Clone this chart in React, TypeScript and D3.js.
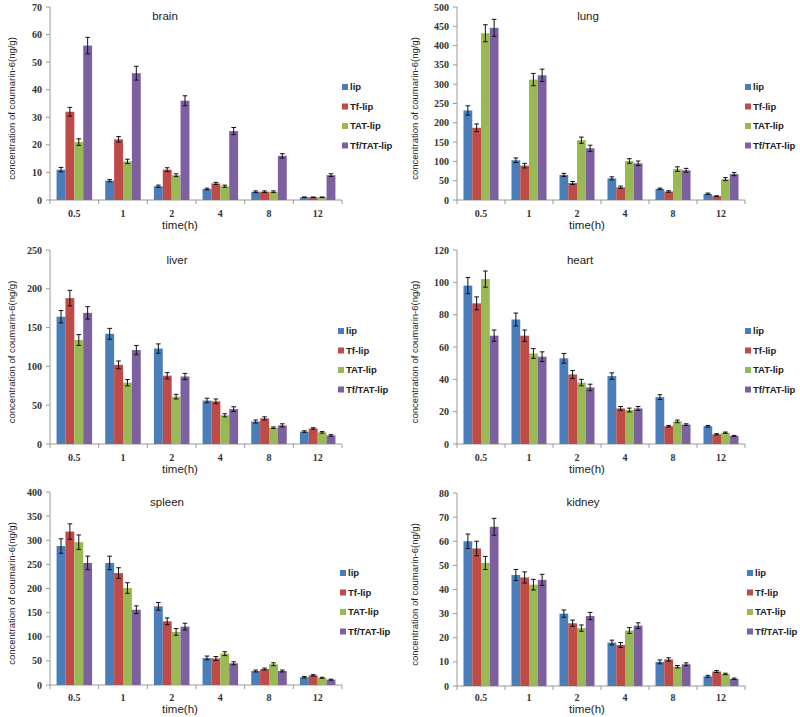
import React from "react";
import * as d3 from "d3";

const times = ["0.5", "1", "2", "4", "8", "12"];
const seriesNames = ["lip", "Tf-lip", "TAT-lip", "Tf/TAT-lip"];
const seriesColors = ["#4A7EBB", "#BE4B48", "#98B954", "#7D60A0"];

const brainValues = [
  [11, 7, 5, 4, 3, 1],
  [32, 22, 11, 6, 3, 1],
  [21, 14, 9, 5, 3, 1],
  [56, 46, 36, 25, 16, 9],
];
const brainErrors = [
  [0.8, 0.4, 0.4, 0.3, 0.3, 0.1],
  [1.6, 1.0, 0.7, 0.4, 0.3, 0.1],
  [1.2, 0.8, 0.5, 0.4, 0.3, 0.1],
  [3, 2.5, 1.8, 1.3, 0.8, 0.5],
];

const lungValues = [
  [232, 103, 65, 56, 29, 16],
  [187, 89, 44, 33, 22, 10],
  [432, 312, 155, 101, 80, 54],
  [446, 323, 134, 95, 77, 67],
];
const lungErrors = [
  [12, 6, 4, 4, 2, 2],
  [10, 6, 4, 3, 2, 1],
  [22, 16, 8, 6, 6, 4],
  [22, 16, 8, 6, 5, 4],
];

const liverValues = [
  [164, 142, 123, 56, 29, 16],
  [188, 102, 88, 55, 33, 20],
  [134, 79, 61, 37, 21, 15],
  [169, 121, 87, 45, 24, 11],
];
const liverErrors = [
  [8, 7, 6, 3, 2, 1],
  [10, 5, 4, 3, 2, 1],
  [7, 4, 3, 2, 1, 1],
  [8, 6, 4, 3, 2, 1],
];

const heartValues = [
  [98, 77, 53, 42, 29, 11],
  [87, 67, 43, 22, 11, 6],
  [102, 56, 38, 21, 14, 7],
  [67, 54, 35, 22, 12, 5],
];
const heartErrors = [
  [5, 4, 3, 2, 1.5, 0.5],
  [4, 3.5, 2.5, 1.2, 0.5, 0.4],
  [5, 3, 2, 1.2, 0.8, 0.4],
  [3.5, 3, 2, 1.2, 0.5, 0.3],
];

const spleenValues = [
  [288, 253, 163, 56, 29, 16],
  [318, 232, 132, 55, 33, 20],
  [296, 201, 110, 65, 43, 15],
  [253, 156, 121, 45, 29, 11],
];
const spleenErrors = [
  [15, 14, 8, 4, 2, 1.5],
  [16, 11, 7, 4, 2, 1.5],
  [15, 11, 7, 4, 3, 1],
  [14, 8, 7, 3, 2, 1],
];

const kidneyValues = [
  [60, 46, 30, 18, 10, 4],
  [57, 45, 26, 17, 11, 6],
  [51, 42, 24, 23, 8, 5],
  [66, 44, 29, 25, 9, 3],
];
const kidneyErrors = [
  [3, 2.3, 1.5, 1, 0.8, 0.4],
  [3, 2.3, 1.3, 1, 0.7, 0.4],
  [2.7, 2.2, 1.3, 1.2, 0.5, 0.3],
  [3.5, 2.3, 1.5, 1.2, 0.6, 0.3],
];

const panelTitles = ["brain", "lung", "liver", "heart", "spleen", "kidney"];
const panelMax = [70, 500, 250, 120, 400, 80];
const panelStep = [10, 50, 50, 20, 50, 10];
const panelValues = [brainValues, lungValues, liverValues, heartValues, spleenValues, kidneyValues];
const panelErrors = [brainErrors, lungErrors, liverErrors, heartErrors, spleenErrors, kidneyErrors];

type Layout = {
  x0: number; x1: number; yTop: number; yZero: number;
  tx: number; ty: number; lx: number; ly: number; ylx: number;
};

const layouts: Layout[] = [
  { x0: 50, x1: 342, yTop: 7, yZero: 200, tx: 165, ty: 20, lx: 342, ly: 87, ylx: 12 },
  { x0: 457, x1: 745, yTop: 7, yZero: 200, tx: 588, ty: 20, lx: 745, ly: 87, ylx: 415 },
  { x0: 50, x1: 342, yTop: 250, yZero: 444, tx: 177, ty: 264, lx: 338, ly: 331, ylx: 12 },
  { x0: 457, x1: 745, yTop: 250, yZero: 444, tx: 580, ty: 264, lx: 745, ly: 331, ylx: 415 },
  { x0: 50, x1: 342, yTop: 492, yZero: 685, tx: 167, ty: 506, lx: 340, ly: 573, ylx: 12 },
  { x0: 457, x1: 745, yTop: 493, yZero: 686, tx: 583, ty: 506, lx: 747, ly: 573, ylx: 415 },
];

const axisColor = "#9a9a9a";
const serif = "'Liberation Serif', 'DejaVu Serif', serif";
const sans = "'Liberation Sans', Arial, sans-serif";

function Panel({ idx }: { idx: number }) {
  const L = layouts[idx];
  const values = panelValues[idx];
  const errors = panelErrors[idx];
  const y = d3.scaleLinear().domain([0, panelMax[idx]]).range([L.yZero, L.yTop]);
  const yTicks = d3.range(0, panelMax[idx] + 0.001, panelStep[idx]);
  const x = d3.scaleBand<string>().domain(times).range([L.x0, L.x1]).padding(0);
  const bw = x.bandwidth();
  const groupW = bw * 0.73;
  const xs = d3.scaleBand<string>().domain(seriesNames).range([0, groupW]).padding(0);
  const barW = xs.bandwidth();
  const off = (bw - groupW) / 2;
  const cap = 2.3;
  const legendGap = 19.5;
  const midY = (L.yTop + L.yZero) / 2 + 5;
  const timeY = Math.min(L.yZero + 29, 713);

  return (
    <g>
      <line x1={L.x0} x2={L.x0} y1={L.yTop} y2={L.yZero} stroke={axisColor} strokeWidth={1} />
      <line x1={L.x0} x2={L.x1} y1={L.yZero} y2={L.yZero} stroke={axisColor} strokeWidth={1} />
      {yTicks.map((t) => (
        <g key={"yt" + t}>
          <line x1={L.x0 - 4} x2={L.x0} y1={y(t)} y2={y(t)} stroke={axisColor} />
          <text x={L.x0 - 8} y={y(t)} dy="0.35em" textAnchor="end" fontFamily={serif}
            fontWeight="bold" fontSize={10} fill="#333">{t}</text>
        </g>
      ))}
      {times.concat(["end"]).map((t, i) => {
        const xx = L.x0 + i * bw;
        return <line key={"xt" + i} x1={xx} x2={xx} y1={L.yZero} y2={L.yZero + 4} stroke={axisColor} />;
      })}
      {times.map((t) => (
        <text key={"xl" + t} x={(x(t) as number) + bw / 2} y={timeY - 12} textAnchor="middle"
          fontFamily={serif} fontWeight="bold" fontSize={10} fill="#333">{t}</text>
      ))}
      {seriesNames.map((s, si) => (
        <g key={s}>
          {times.map((t, ti) => {
            const v = values[si][ti];
            const bx = (x(t) as number) + off + (xs(s) as number);
            const cx = bx + barW / 2;
            const e = errors[si][ti];
            return (
              <g key={t}>
                <rect x={bx} y={y(v)} width={barW} height={L.yZero - y(v)} fill={seriesColors[si]} />
                <line x1={cx} x2={cx} y1={y(v + e)} y2={y(v - e)} stroke="#111" strokeWidth={1} />
                <line x1={cx - cap} x2={cx + cap} y1={y(v + e)} y2={y(v + e)} stroke="#111" strokeWidth={1} />
                <line x1={cx - cap} x2={cx + cap} y1={y(v - e)} y2={y(v - e)} stroke="#111" strokeWidth={1} />
              </g>
            );
          })}
        </g>
      ))}
      <text x={L.tx} y={L.ty} textAnchor="middle" fontFamily={sans} fontSize={11.5} fill="#222">
        {panelTitles[idx]}
      </text>
      {seriesNames.map((s, si) => (
        <g key={"lg" + s}>
          <rect x={L.lx} y={L.ly + si * legendGap - 3} width={6} height={6} fill={seriesColors[si]} />
          <text x={L.lx + 8} y={L.ly + si * legendGap} dy="0.35em" fontFamily={sans}
            fontWeight="bold" fontSize={9.5} fill="#222">{s}</text>
        </g>
      ))}
      <text transform={`translate(${L.ylx},${midY}) rotate(-90)`} textAnchor="middle"
        dy="0.35em" fontFamily={sans} fontSize={9.5} fill="#222">
        concentration of coumarin-6(ng/g)
      </text>
      <text x={L.x0 + 130} y={timeY} textAnchor="middle" fontFamily={sans}
        fontSize={11.5} fill="#222">time(h)</text>
    </g>
  );
}

export default function App() {
  return (
    <svg width={800} height={717} style={{ position: "absolute", left: 0, top: 0, background: "#fff" }}>
      <rect x={0} y={0} width={800} height={717} fill="#fff" />
      {layouts.map((_, i) => (
        <Panel key={i} idx={i} />
      ))}
    </svg>
  );
}
